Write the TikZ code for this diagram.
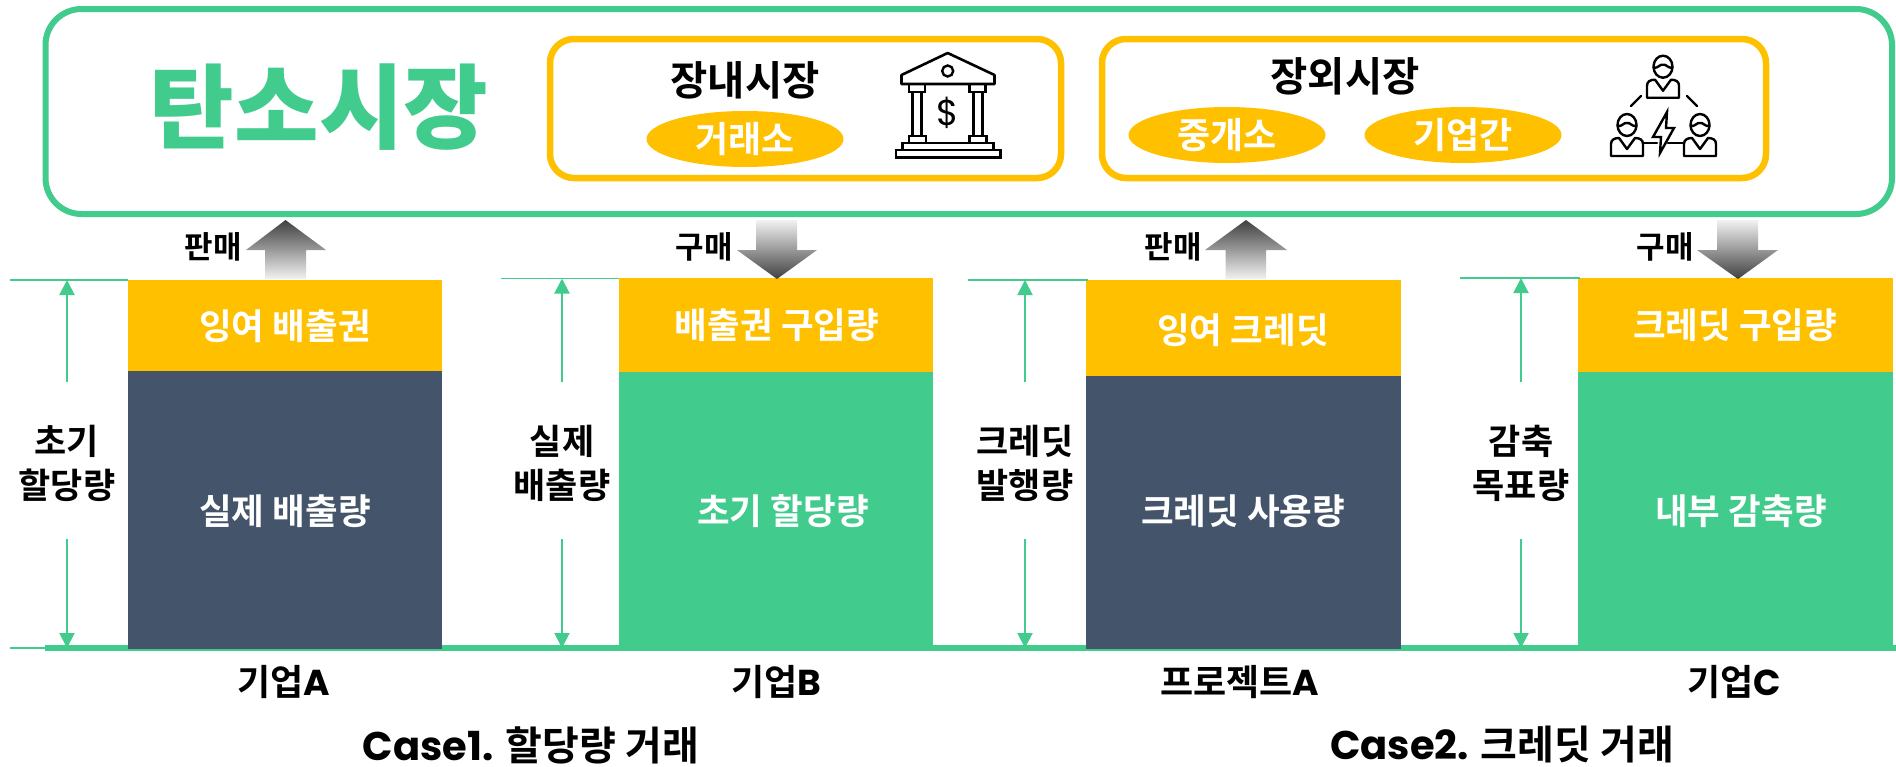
\documentclass[tikz,border=0pt]{standalone}
\usepackage{fontspec}
\setmainfont{Noto Sans CJK KR}[BoldFont={Noto Sans CJK KR Bold}]
\newfontfamily\lt{Poppins}
\newfontfamily\heavy{Noto Sans CJK KR Black}
\definecolor{grn}{HTML}{41CB8D}
\definecolor{ylw}{HTML}{FFC000}
\definecolor{nav}{HTML}{44546A}
\newcommand{\fs}[1]{\fontsize{#1}{#1}\selectfont\bfseries}
\newcommand{\fh}[1]{\fontsize{#1}{#1}\selectfont\heavy}
\tikzset{
  x=1pt,y=-1pt,
  txt/.style={inner sep=0pt,outer sep=0pt,align=center},
  barlbl/.style={txt,text=white,font=\fs{35.5}},
  sidelbl/.style={txt,text=black,font=\fs{35}},
  underlbl/.style={txt,text=black,font=\fs{36}},
  caselbl/.style={txt,text=black,font=\fs{40}},
  tradelbl/.style={txt,text=black,font=\fs{31}},
  oval/.style={ellipse,fill=ylw,inner sep=0pt,minimum width=197pt,minimum height=56pt},
  ovallbl/.style={txt,text=white,font=\fs{36}},
  mkt/.style={txt,text=black,font=\fs{40.5}},
  outerbox/.style={draw=grn,line width=6pt,rounded corners=36pt,fill=white},
  innerbox/.style={draw=ylw,line width=6.5pt,rounded corners=24pt,fill=white},
  tick/.style={draw=grn,line width=1.5pt},
  dim/.style={draw=grn,line width=2pt,-{Triangle[length=15pt,width=15pt]}},
  upa/.style={draw=none,top color=black!75,bottom color=black!5},
  dna/.style={draw=none,top color=black!5,bottom color=black!75},
  ico/.style={draw=black,line width=2.6pt,line join=miter},
  ico2/.style={draw=black,line width=2.4pt,line join=round,line cap=round}
}
\usetikzlibrary{arrows.meta,shapes.geometric}
\newcommand{\personicon}[2]{%
  \begin{scope}[shift={(#1,#2)}]
    \draw[ico2] (0,0) ellipse (9.5 and 11);
    \draw[ico2] (-9.5,1) .. controls (-5,2) and (-3,-3) .. (0,-2) .. controls (3,-3) and (5,2) .. (9.5,1);
    \draw[ico2] (-16,31) -- (-16,19) .. controls (-16,15) and (-13,13) .. (-8,13) -- (0,24) -- (8,13) .. controls (13,13) and (16,15) .. (16,19) -- (16,31) -- cycle;
  \end{scope}}
\begin{document}
\begin{tikzpicture}
\useasboundingbox (0,0) rectangle (1896,766);
\fill[white] (0,0) rectangle (1896,766);
% market frame
\draw[outerbox] (45.5,9) rectangle (1892,214);
\node[txt,text=grn,font=\fh{92}] (title) at (319,107) {탄소시장};
\draw[innerbox] (550,39) rectangle (1061,178);
\draw[innerbox] (1102,39) rectangle (1766,178);
\node[mkt] (inside) at (745,80) {장내시장};
\node[oval] (krx) at (745,139) {};
\node[ovallbl] (krxt) at (745,139) {거래소};
\node[mkt] (outside) at (1345,76) {장외시장};
\node[oval] (broker) at (1227,135) {};
\node[ovallbl] (brokert) at (1227,135) {중개소};
\node[oval] (b2b) at (1463,135) {};
\node[ovallbl] (b2bt) at (1463,135) {기업간};
% bank icon
\draw[ico,line join=round] (947.7,53) -- (901.5,75) -- (901.5,84) -- (994.5,84) -- (994.5,75) -- cycle;
\draw[black,line width=2.4pt] (947.7,71) ellipse (5.5 and 5.5);
\draw[ico] (909,84) rectangle (925,92) (969.5,84) rectangle (985.5,92);
\draw[ico] (912.5,92) -- (912.5,136) (921.5,92) -- (921.5,136) (973.5,92) -- (973.5,136) (982.5,92) -- (982.5,136);
\draw[ico] (909,136) rectangle (926,143) (969.5,136) rectangle (986.5,143);
\draw[ico] (902.5,143) rectangle (993.5,150);
\draw[ico] (896,150) rectangle (1000.5,157.5);
\node[txt,font=\fontsize{36}{36}\selectfont\lt] (dollar) at (948,113) {\$};
% people icon
\personicon{1663}{66.7}
\personicon{1627}{125}
\personicon{1700}{125}
\draw[ico2] (1631,106) -- (1641,96) (1687,96) -- (1697,106);
\draw[ico2] (1643,143) -- (1657,143) (1668,143) -- (1684,143);
\draw[ico2,line join=miter,fill=white] (1667,112) -- (1653,137) -- (1661,137) -- (1660,153) -- (1674,128) -- (1666,128) -- cycle;
% baseline
\coordinate (bl) at (45,648);
\coordinate (br) at (1896,648);
\draw[grn,line width=6pt] (bl) -- (br);
% columns
\fill[nav] (128,371) rectangle (442,649);
\fill[ylw] (128,280) rectangle (442,371);
\fill[grn] (619,372) rectangle (933,648);
\fill[ylw] (619,278) rectangle (933,372);
\fill[nav] (1086,376) rectangle (1401,649);
\fill[ylw] (1086,280) rectangle (1401,376);
\fill[grn] (1578,372) rectangle (1893,648);
\fill[ylw] (1578,278) rectangle (1893,372);
\node[barlbl] (a1) at (285,326) {잉여 배출권};
\node[barlbl] (a2) at (285,511) {실제 배출량};
\node[barlbl] (b1) at (777,325) {배출권 구입량};
\node[barlbl] (b2) at (783,511) {초기 할당량};
\node[barlbl] (c1) at (1243,330) {잉여 크레딧};
\node[barlbl] (c2) at (1243,511) {크레딧 사용량};
\node[barlbl] (d1) at (1735,325) {크레딧 구입량};
\node[barlbl] (d2) at (1741,511) {내부 감축량};
% trade arrows
\path[upa] (285.5,220) -- (326,250) -- (306,250) -- (306,279) -- (265,279) -- (265,250) -- (246,250) -- cycle;
\path[dna] (756,220) -- (797,220) -- (797,250) -- (817,250) -- (777,279) -- (737,250) -- (756,250) -- cycle;
\path[upa] (1246,220) -- (1287,250) -- (1266,250) -- (1266,279) -- (1225.5,279) -- (1225.5,250) -- (1205,250) -- cycle;
\path[dna] (1717,220) -- (1758,220) -- (1758,250) -- (1778,250) -- (1738,279) -- (1697,250) -- (1717,250) -- cycle;
\node[tradelbl] (s1) at (213,247) {판매};
\node[tradelbl] (s2) at (704,247) {구매};
\node[tradelbl] (s3) at (1173,247) {판매};
\node[tradelbl] (s4) at (1665,247) {구매};
% dimension guides
\foreach \n/\x/\a/\b/\y in {1/67/10/128/280,2/562/501/619/278.5,3/1025/968/1088/280,4/1521/1460/1580/278}{
  \coordinate (tl\n) at (\a,\y);
  \coordinate (tr\n) at (\b,\y);
  \coordinate (tm\n) at (\x,\y);
  \coordinate (um\n) at (\x,382);
  \coordinate (lm\n) at (\x,539);
  \coordinate (bm\n) at (\x,648);
  \draw[tick] (tl\n) -- (tr\n);
  \draw[dim] (um\n) -- (tm\n);
  \draw[dim] (lm\n) -- (bm\n);
}
\coordinate (t0) at (10,648);
\draw[tick] (t0) -- (bl);
\node[sidelbl] (l1) at (67,463) {초기\\[9pt]할당량};
\node[sidelbl] (l2) at (562,463) {실제\\[9pt]배출량};
\node[sidelbl] (l3) at (1025,463) {크레딧\\[9pt]발행량};
\node[sidelbl] (l4) at (1521,463) {감축\\[9pt]목표량};
% captions
\node[underlbl] (n1) at (284,682) {기업{\lt A}};
\node[underlbl] (n2) at (776,682) {기업{\lt B}};
\node[underlbl] (n3) at (1240,682) {프로젝트{\lt A}};
\node[underlbl] (n4) at (1734,682) {기업{\lt C}};
\node[caselbl] (k1) at (531,745) {{\lt Case1.} 할당량 거래};
\node[caselbl] (k2) at (1502,745) {{\lt Case2.} 크레딧 거래};
\end{tikzpicture}
\end{document}
